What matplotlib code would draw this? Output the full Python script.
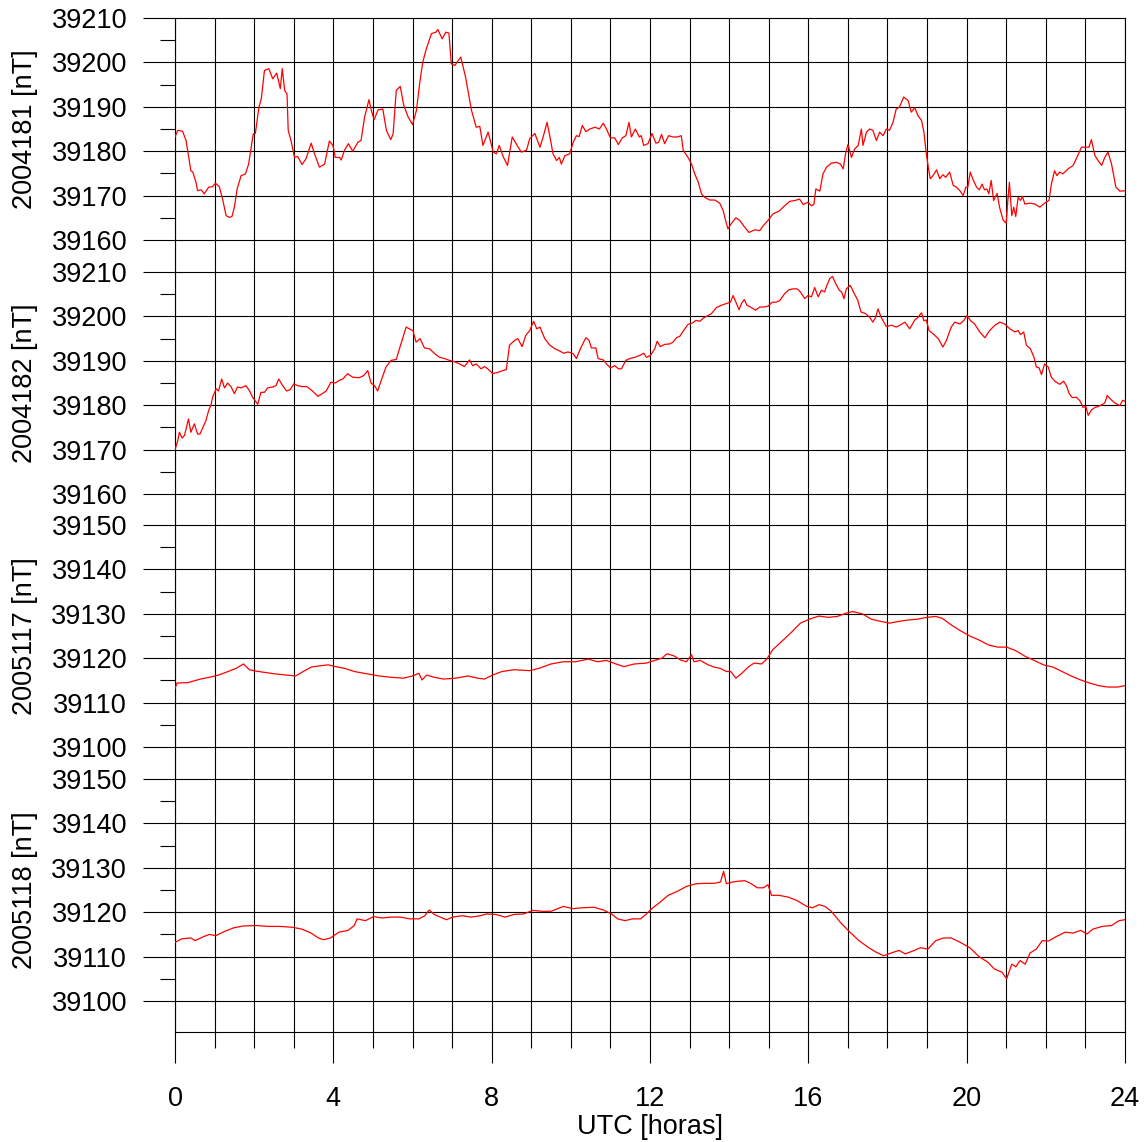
import matplotlib
matplotlib.use("Agg")
import matplotlib.pyplot as plt
from matplotlib.ticker import StrMethodFormatter

plt.rcParams['font.family'] = ['Liberation Sans', 'DejaVu Sans']

# ---------------- data ----------------
labels = ['2004181 [nT]', '2004182 [nT]', '2005117 [nT]', '2005118 [nT]']
top_values = [39210, 39210, 39150, 39150]
x_ticks = [0, 4, 8, 12, 16, 20, 24]
x_label = 'UTC [horas]'

h1 = [0.00,0.07,0.19,0.28,0.40,0.45,0.53,0.57,0.66,0.74,
      0.85,0.95,1.02,1.12,1.21,1.29,1.37,1.44,1.50,1.57,
      1.67,1.78,1.86,1.95,1.98,2.03,2.12,2.18,2.26,2.37,
      2.47,2.57,2.66,2.71,2.77,2.83,2.86,2.93,3.02,3.10,
      3.21,3.31,3.44,3.54,3.65,3.78,3.90,3.99,4.05,4.16,
      4.20,4.28,4.38,4.49,4.62,4.70,4.79,4.90,4.96,5.03,
      5.13,5.25,5.34,5.45,5.51,5.59,5.69,5.78,5.89,6.00,
      6.10,6.18,6.26,6.35,6.48,6.59,6.64,6.75,6.84,6.92,
      6.98,7.07,7.13,7.22,7.34,7.49,7.61,7.70,7.78,7.91,
      8.04,8.12,8.19,8.29,8.40,8.52,8.67,8.75,8.88,8.96,
      9.09,9.22,9.30,9.40,9.49,9.55,9.64,9.71,9.76,9.85,
      9.97,10.06,10.14,10.21,10.29,10.38,10.48,10.61,10.72,10.82,
      10.90,11.00,11.11,11.20,11.30,11.39,11.47,11.53,11.63,11.73,
      11.78,11.84,11.95,12.05,12.15,12.22,12.29,12.37,12.47,12.58,
      12.69,12.79,12.84,12.96,13.05,13.13,13.22,13.30,13.38,13.51,
      13.64,13.76,13.85,13.91,13.97,14.06,14.17,14.27,14.39,14.50,
      14.65,14.77,14.86,14.98,15.11,15.26,15.40,15.53,15.66,15.78,
      15.87,15.99,16.08,16.14,16.19,16.29,16.37,16.46,16.58,16.71,
      16.81,16.88,16.94,17.00,17.09,17.17,17.26,17.34,17.38,17.47,
      17.55,17.63,17.72,17.80,17.89,17.97,18.05,18.14,18.22,18.30,
      18.41,18.52,18.60,18.69,18.77,18.86,18.92,18.97,19.03,19.08,
      19.15,19.24,19.32,19.40,19.47,19.57,19.66,19.74,19.83,19.91,
      19.98,20.03,20.09,20.17,20.25,20.32,20.39,20.45,20.51,20.56,
      20.62,20.68,20.77,20.83,20.92,21.00,21.04,21.08,21.14,21.19,
      21.24,21.30,21.36,21.41,21.47,21.60,21.72,21.85,21.97,22.08,
      22.14,22.22,22.28,22.35,22.43,22.56,22.69,22.77,22.90,23.03,
      23.09,23.15,23.24,23.32,23.41,23.49,23.57,23.66,23.77,23.87,
      24.00]
b1 = [39183.2,39184.7,39184.5,39182.4,39175.6,39175.3,39173.0,39171.1,39171.3,39170.4,
      39171.9,39172.0,39172.8,39172.0,39168.9,39165.5,39165.1,39165.3,39167.4,39171.5,
      39174.5,39174.9,39177.1,39182.4,39183.9,39184.0,39189.9,39191.8,39198.2,39198.6,
      39196.3,39197.6,39194.1,39198.6,39193.7,39192.9,39184.7,39182.4,39178.6,39178.8,
      39177.0,39178.3,39181.8,39179.0,39176.4,39177.1,39182.3,39181.3,39178.6,39178.6,
      39178.0,39180.2,39181.7,39180.0,39182.0,39182.4,39187.7,39191.6,39189.2,39187.1,
      39189.3,39189.5,39184.7,39182.6,39183.9,39193.7,39194.6,39190.3,39187.7,39186.0,
      39189.2,39195.2,39200.1,39203.1,39206.5,39206.8,39207.4,39205.3,39206.8,39206.6,
      39199.7,39199.3,39200.1,39201.2,39196.7,39189.2,39185.4,39185.6,39181.3,39184.3,
      39179.8,39179.4,39181.3,39178.8,39176.8,39183.2,39180.9,39179.8,39180.2,39182.8,
      39184.0,39180.9,39183.2,39186.5,39182.4,39179.4,39177.9,39178.6,39177.1,39179.0,
      39179.4,39182.0,39183.5,39183.3,39185.8,39184.4,39185.0,39185.4,39185.0,39186.3,
      39185.0,39183.0,39183.0,39181.5,39183.0,39183.5,39186.5,39183.2,39185.0,39183.2,
      39183.5,39181.3,39181.7,39184.0,39181.8,39182.0,39183.8,39181.7,39183.5,39183.2,
      39183.2,39183.5,39180.2,39178.6,39177.1,39174.9,39173.0,39170.4,39169.6,39169.0,
      39169.0,39168.3,39166.6,39164.4,39162.5,39163.8,39165.0,39164.4,39162.9,39161.7,
      39162.3,39162.1,39163.2,39164.4,39165.9,39166.5,39167.7,39168.7,39168.9,39169.2,
      39168.0,39168.5,39167.7,39168.0,39171.5,39171.0,39174.9,39176.4,39177.3,39177.5,
      39177.1,39176.0,39179.4,39181.5,39178.6,39180.5,39181.3,39185.0,39181.3,39184.3,
      39185.0,39184.7,39182.4,39184.3,39183.5,39185.0,39184.7,39186.5,39189.5,39189.9,
      39192.2,39191.4,39188.8,39189.8,39188.0,39186.9,39184.3,39180.2,39176.4,39173.8,
      39174.5,39175.8,39173.8,39174.7,39174.1,39175.3,39172.3,39171.9,39171.1,39170.0,
      39171.9,39171.9,39175.3,39173.4,39171.9,39171.3,39172.6,39171.3,39171.5,39170.4,
      39173.4,39168.9,39170.5,39167.4,39164.5,39163.8,39168.9,39173.0,39165.5,39167.4,
      39165.3,39169.6,39168.9,39169.8,39168.1,39168.3,39168.1,39167.4,39168.3,39168.9,
      39172.6,39175.6,39174.5,39175.3,39174.9,39176.0,39176.8,39178.3,39180.9,39180.9,
      39180.9,39182.6,39179.0,39177.9,39176.8,39178.6,39179.8,39177.1,39171.9,39171.0,
      39171.1]

h2 = [0.00,0.07,0.11,0.18,0.24,0.29,0.34,0.40,0.49,0.57,
      0.63,0.70,0.78,0.85,0.91,0.95,1.04,1.10,1.18,1.25,
      1.33,1.42,1.50,1.58,1.67,1.79,1.88,1.96,2.09,2.17,
      2.26,2.34,2.47,2.55,2.62,2.72,2.82,2.91,3.00,3.10,
      3.21,3.33,3.46,3.61,3.72,3.82,3.94,4.05,4.15,4.24,
      4.36,4.49,4.66,4.77,4.87,4.95,5.04,5.12,5.21,5.33,
      5.46,5.59,5.67,5.75,5.84,5.92,6.01,6.09,6.19,6.30,
      6.43,6.55,6.68,6.81,6.93,7.06,7.19,7.31,7.44,7.52,
      7.61,7.73,7.82,7.90,8.03,8.16,8.28,8.37,8.45,8.58,
      8.66,8.77,8.86,8.96,9.06,9.14,9.22,9.34,9.47,9.60,
      9.72,9.82,9.93,10.06,10.14,10.24,10.38,10.46,10.52,10.63,
      10.69,10.82,10.90,11.00,11.11,11.20,11.28,11.39,11.49,11.62,
      11.74,11.84,11.91,12.01,12.12,12.18,12.26,12.37,12.50,12.58,
      12.67,12.75,12.84,12.96,13.07,13.16,13.26,13.36,13.47,13.55,
      13.68,13.80,13.93,14.03,14.10,14.17,14.25,14.31,14.38,14.45,
      14.56,14.67,14.77,14.87,14.98,15.09,15.19,15.28,15.40,15.51,
      15.61,15.72,15.80,15.91,15.99,16.08,16.16,16.25,16.33,16.41,
      16.47,16.54,16.61,16.69,16.78,16.84,16.90,16.96,17.06,17.14,
      17.25,17.33,17.45,17.55,17.63,17.70,17.76,17.84,17.97,18.10,
      18.22,18.31,18.44,18.56,18.69,18.77,18.86,18.92,18.98,19.05,
      19.15,19.28,19.40,19.49,19.61,19.70,19.83,19.93,20.01,20.10,
      20.20,20.33,20.46,20.58,20.71,20.84,20.96,21.09,21.22,21.30,
      21.36,21.44,21.51,21.61,21.70,21.76,21.83,21.89,21.97,22.06,
      22.14,22.23,22.35,22.45,22.52,22.59,22.67,22.77,22.86,22.94,
      23.01,23.07,23.15,23.24,23.32,23.41,23.49,23.55,23.63,23.74,
      23.87,23.94,24.00]
b2 = [39170.0,39172.0,39173.9,39172.6,39173.2,39175.0,39176.9,39173.9,39175.8,39173.5,
      39173.5,39174.9,39176.5,39178.8,39180.1,39181.8,39183.7,39183.2,39185.9,39183.9,
      39185.0,39184.1,39182.6,39184.1,39183.9,39184.4,39183.3,39181.8,39180.2,39182.9,
      39182.9,39183.9,39184.1,39184.4,39185.9,39184.4,39183.2,39183.5,39184.8,39184.4,
      39184.2,39184.2,39183.3,39182.0,39182.6,39183.2,39185.2,39185.0,39185.6,39185.9,
      39187.1,39186.3,39186.2,39186.7,39187.8,39185.0,39184.4,39183.2,39185.6,39188.6,
      39190.1,39190.3,39192.7,39195.0,39197.6,39197.2,39196.8,39194.2,39195.0,39192.9,
      39192.7,39191.7,39190.8,39190.5,39190.1,39189.8,39189.3,39188.7,39190.2,39188.9,
      39189.3,39188.2,39188.7,39188.2,39187.1,39187.4,39187.8,39188.0,39193.5,39194.6,
      39195.0,39193.2,39195.7,39196.8,39198.9,39197.2,39197.6,39195.0,39193.5,39192.7,
      39192.2,39191.7,39192.0,39191.6,39190.5,39192.7,39195.2,39194.6,39192.9,39192.9,
      39190.5,39190.2,39189.3,39188.4,39188.9,39188.2,39188.2,39190.1,39190.5,39190.8,
      39191.2,39191.7,39190.8,39191.2,39192.7,39194.4,39193.2,39193.7,39193.8,39194.2,
      39195.2,39195.5,39196.7,39198.2,39198.5,39199.1,39198.9,39199.7,39200.2,39200.6,
      39202.0,39202.5,39202.9,39203.2,39204.7,39203.2,39201.5,39202.9,39203.8,39202.5,
      39202.0,39201.4,39202.1,39202.1,39202.3,39203.2,39203.2,39203.6,39205.1,39206.0,
      39206.2,39206.2,39205.5,39204.0,39204.7,39204.4,39206.5,39204.4,39205.9,39205.5,
      39207.0,39208.5,39209.0,39207.4,39205.9,39205.5,39204.0,39206.2,39207.0,39205.5,
      39203.6,39201.0,39200.6,39199.8,39198.7,39199.8,39201.7,39199.8,39197.7,39198.0,
      39197.6,39198.0,39198.7,39197.2,39199.2,39199.8,39200.8,39199.0,39199.2,39196.8,
      39196.1,39195.0,39193.1,39194.6,39197.6,39198.7,39198.3,39199.1,39200.2,39199.0,
      39198.3,39196.5,39195.2,39196.8,39198.0,39198.7,39198.3,39197.2,39196.5,39196.8,
      39195.9,39196.5,39193.5,39192.7,39190.8,39188.6,39188.4,39186.9,39189.3,39188.6,
      39186.3,39185.4,39184.7,39185.4,39184.4,39182.6,39181.7,39181.8,39181.0,39179.5,
      39179.7,39177.7,39178.9,39179.5,39179.7,39180.1,39180.5,39182.2,39181.4,39180.5,
      39179.9,39181.1,39180.9]

h3 = [0.00,0.05,0.33,0.64,0.87,1.10,1.34,1.54,1.73,1.88,
      2.04,2.27,2.50,2.81,3.05,3.20,3.44,3.67,3.87,4.06,
      4.29,4.53,4.84,5.15,5.46,5.77,6.00,6.16,6.24,6.36,
      6.55,6.78,7.09,7.40,7.64,7.82,8.02,8.26,8.57,8.96,
      9.19,9.50,9.81,10.12,10.44,10.67,10.90,11.14,11.34,11.60,
      11.91,12.15,12.30,12.43,12.61,12.77,12.92,13.05,13.11,13.27,
      13.47,13.62,13.78,13.93,14.04,14.17,14.32,14.48,14.63,14.82,
      14.95,15.10,15.33,15.57,15.80,16.03,16.27,16.50,16.73,16.97,
      17.12,17.36,17.59,17.82,18.06,18.29,18.52,18.76,18.99,19.22,
      19.38,19.61,19.84,20.08,20.31,20.55,20.78,21.01,21.24,21.48,
      21.71,21.94,22.18,22.41,22.64,22.88,23.11,23.34,23.58,23.81,
      24.00]
b3 = [39113.2,39114.4,39114.5,39115.3,39115.7,39116.2,39117.0,39117.7,39118.7,39117.4,
      39117.1,39116.8,39116.5,39116.2,39116.0,39116.8,39118.0,39118.3,39118.5,39118.1,
      39117.7,39117.0,39116.5,39116.0,39115.7,39115.5,39116.0,39116.6,39115.1,39116.2,
      39115.7,39115.3,39115.5,39116.0,39115.5,39115.3,39116.2,39117.0,39117.4,39117.2,
      39117.7,39118.7,39119.2,39119.2,39119.8,39119.2,39119.5,39118.7,39118.1,39118.7,
      39118.9,39119.6,39120.0,39121.0,39120.5,39119.6,39119.2,39120.8,39119.2,39119.5,
      39118.5,39118.0,39117.7,39117.0,39117.0,39115.5,39116.6,39118.0,39118.9,39118.7,
      39119.8,39121.9,39123.8,39125.8,39127.9,39128.8,39129.5,39129.2,39129.4,39130.2,
      39130.5,39130.0,39128.8,39128.3,39127.9,39128.3,39128.6,39128.8,39129.2,39129.4,
      39129.0,39127.5,39126.2,39125.0,39124.1,39123.0,39122.5,39122.5,39121.7,39120.4,
      39119.5,39118.5,39118.0,39117.0,39116.0,39115.1,39114.4,39113.8,39113.5,39113.5,
      39113.8]

h4 = [0.00,0.17,0.40,0.51,0.72,0.87,1.03,1.26,1.49,1.73,
      2.04,2.35,2.66,2.97,3.20,3.44,3.62,3.75,3.93,4.14,
      4.37,4.53,4.60,4.81,5.02,5.23,5.46,5.69,5.93,6.16,
      6.31,6.42,6.55,6.70,6.86,7.01,7.25,7.48,7.71,7.87,
      8.10,8.34,8.57,8.80,9.04,9.27,9.50,9.81,10.05,10.28,
      10.59,10.82,11.03,11.18,11.37,11.56,11.76,11.91,12.07,12.22,
      12.46,12.69,12.92,13.16,13.39,13.62,13.78,13.86,13.93,14.09,
      14.25,14.40,14.56,14.71,14.87,14.98,15.07,15.26,15.49,15.72,
      15.96,16.11,16.27,16.42,16.58,16.81,17.05,17.28,17.51,17.71,
      17.90,18.09,18.29,18.45,18.68,18.83,19.02,19.22,19.42,19.61,
      19.84,20.08,20.31,20.54,20.70,20.89,21.01,21.14,21.24,21.35,
      21.48,21.60,21.76,21.91,22.07,22.26,22.49,22.69,22.88,23.04,
      23.19,23.43,23.66,23.85,24.00]
b4 = [39113.2,39114.0,39114.2,39113.6,39114.5,39115.0,39114.7,39115.7,39116.5,39116.9,
      39117.0,39116.8,39116.8,39116.6,39116.2,39115.3,39114.2,39113.8,39114.2,39115.5,
      39115.9,39117.0,39118.5,39118.1,39119.0,39118.7,39118.9,39118.9,39118.5,39118.5,
      39119.2,39120.5,39119.5,39118.9,39118.3,39118.9,39119.2,39118.9,39119.2,39119.6,
      39119.5,39118.9,39119.5,39119.6,39120.4,39120.2,39120.2,39121.3,39120.8,39121.0,
      39121.1,39120.5,39119.6,39118.5,39118.1,39118.5,39118.5,39119.6,39121.0,39122.0,
      39123.8,39124.7,39125.8,39126.4,39126.5,39126.5,39126.8,39129.2,39126.4,39126.8,
      39127.0,39127.1,39126.4,39125.5,39125.5,39126.2,39123.8,39123.8,39123.4,39122.6,
      39121.3,39121.0,39121.7,39121.3,39120.2,39117.7,39115.5,39113.6,39112.1,39111.0,
      39110.2,39110.8,39111.4,39110.6,39111.4,39112.0,39111.7,39113.6,39114.2,39114.2,
      39113.2,39112.0,39110.0,39108.7,39107.2,39106.5,39105.0,39108.3,39107.7,39109.1,
      39108.3,39110.8,39111.7,39113.6,39113.5,39114.5,39115.5,39115.3,39115.9,39115.1,
      39116.2,39116.8,39117.0,39118.1,39118.3]

hours = [h1, h2, h3, h4]
values = [b1, b2, b3, b4]

# ---------------- layout ----------------
W, H = 1146, 1142
fig = plt.figure(figsize=(W / 100, H / 100), dpi=100)
left_px, right_px = 175, 1125
tops_px = [18, 272, 525, 779]
bottoms_px = [272, 525, 779, 1032]
px_per_nT = 4.44
FS = 19.5
LW = 0.8

for i in range(4):
    top = tops_px[i]
    hpx = bottoms_px[i] - top
    ax = fig.add_axes([left_px / W, 1 - bottoms_px[i] / H,
                       (right_px - left_px) / W, hpx / H])
    yt = top_values[i]
    ax.plot(hours[i], values[i], color='red', lw=0.9, zorder=3)
    ax.set_xlim(0, 24)
    ax.set_ylim(yt - hpx / px_per_nT, yt)
    ax.set_yticks(list(range(yt - 50, yt + 1, 10)))
    ax.set_yticks(list(range(yt - 45, yt, 10)), minor=True)
    ax.yaxis.set_major_formatter(StrMethodFormatter('{x:.0f}'))
    ax.set_xticks(x_ticks)
    ax.set_xticks(list(range(25)), minor=True)
    ax.tick_params(axis='y', which='major', length=23, width=LW,
                   direction='out', pad=11.5, labelsize=FS)
    ax.tick_params(axis='y', which='minor', length=10.8, width=LW,
                   direction='out')
    ax.grid(axis='y', which='major', color='black', lw=LW)
    ax.grid(axis='x', which='both', color='black', lw=LW)
    for tk in ax.yaxis.get_major_ticks():
        tk.gridline.set_clip_on(False)
    ax.set_axisbelow(True)
    for s in ax.spines.values():
        s.set_linewidth(LW)
    ax.spines['top'].set_visible(False)
    if i < 3:
        ax.spines['bottom'].set_visible(False)
        ax.tick_params(axis='x', which='both', length=0, labelbottom=False)
    else:
        ax.tick_params(axis='x', which='major', length=22.3, width=LW,
                       direction='out', pad=16.5, labelsize=FS)
        ax.tick_params(axis='x', which='minor', length=11.5, width=LW,
                       direction='out')
    fig.text(25 / W, 1 - (top + 111) / H, labels[i], rotation=90,
             ha='center', va='center', fontsize=FS)

fig.text(650 / W, 1 - 1127 / H, x_label, ha='center', va='center', fontsize=FS)

fig.savefig('out.png', dpi=100)
